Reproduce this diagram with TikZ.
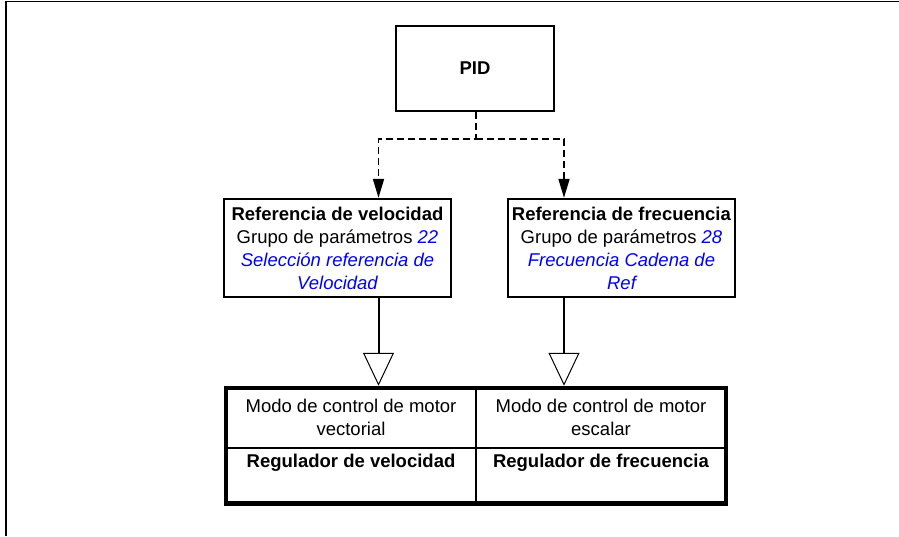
\documentclass[tikz,border=0pt]{standalone}
\usepackage{fontspec}
\setmainfont{Liberation Sans}
\usetikzlibrary{arrows.meta}
\definecolor{ParamBlue}{HTML}{0000FF}
\newcommand{\param}[1]{\textcolor{ParamBlue}{\itshape #1}}

\begin{document}
\begin{tikzpicture}[x=1pt,y=-1pt,every node/.style={font=\fontsize{18.5}{23}\selectfont,align=center,inner sep=0pt},
  refbox/.style={draw,line width=2.3pt,minimum width=227pt,minimum height=98pt},
  dashlink/.style={line width=1.7pt,dash pattern=on 7pt off 4pt,-{Triangle[length=19pt,width=11pt]}},
  stem/.style={line width=2pt,-{Triangle[open,length=33pt,width=31pt,line width=1pt]}}]
\useasboundingbox (0,0) rectangle (899,536);
\draw[line width=1.3pt] (6,536)--(6,1.5)--(899,1.5);
\node[draw,line width=2pt,minimum width=158pt,minimum height=85pt] (pid) at (475,68.5) {\textbf{PID}};
\node[refbox] (speedref) at (337.5,248) {\textbf{Referencia de velocidad}\\Grupo de parámetros \param{22}\\\param{Selección referencia de}\\\param{Velocidad}};
\node[refbox] (freqref) at (621.5,248) {\textbf{Referencia de frecuencia}\\Grupo de parámetros \param{28}\\\param{Frecuencia Cadena de}\\\param{Ref}};
\node[draw,line width=4.5pt,minimum width=500pt,minimum height=115.5pt] (ctrl) at (476,445.75) {};
\coordinate (fork) at (476,139);
\coordinate (xl) at (378.5,0);\coordinate (xr) at (564,0);
\draw[dashlink] (pid.south -| fork)--(fork)-|(speedref.north -| xl);
\draw[dashlink] (fork)-|(freqref.north -| xr);
\draw[stem] (speedref.south -| xl)--(ctrl.north -| xl);
\draw[stem] (freqref.south -| xr)--(ctrl.north -| xr);
\draw[line width=2pt] (ctrl.north)--(ctrl.south);
\draw[line width=2pt] (ctrl.west |- 0,447.5)--(ctrl.east |- 0,447.5);
\node (vecmode) at (351,417) {Modo de control de motor\\vectorial};
\node (scalmode) at (601,417) {Modo de control de motor\\escalar};
\node (speedreg) at (351,463) {\textbf{Regulador de velocidad}};
\node (freqreg) at (601,463) {\textbf{Regulador de frecuencia}};
\end{tikzpicture}
\end{document}
